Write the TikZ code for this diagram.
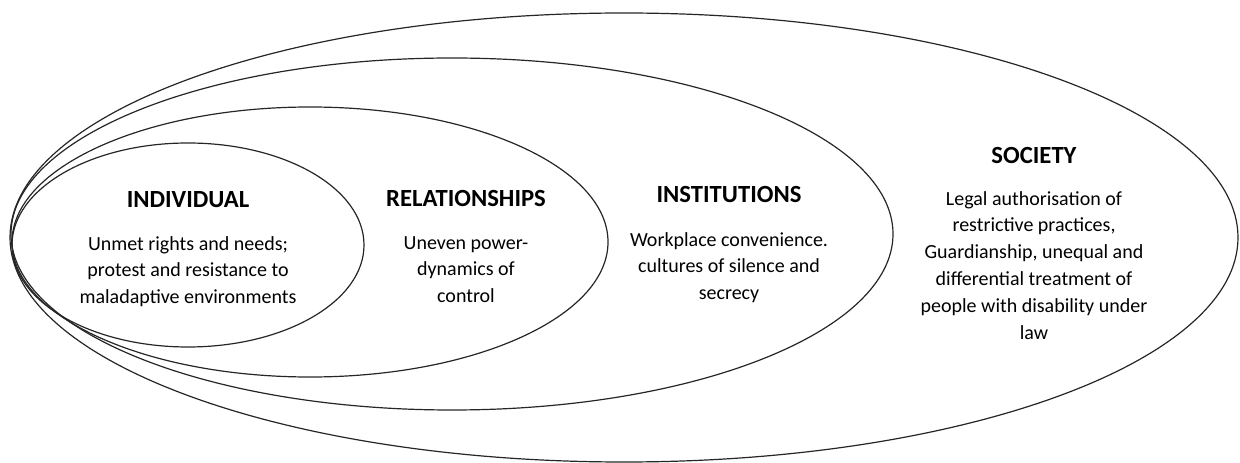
\documentclass[tikz,border=0pt]{standalone}
\usepackage{fontspec}
\setmainfont{Carlito}
\usetikzlibrary{shapes.geometric}
\tikzset{
  ring/.style={draw=black!85, line width=0.9pt, ellipse, inner sep=0pt, outer sep=0pt},
  head/.style={font=\fontsize{18.5}{22}\selectfont\bfseries, inner sep=0pt},
  body/.style={font=\fontsize{15}{20.1}\selectfont, align=center, inner sep=0pt, anchor=north}
}
\begin{document}
\begin{tikzpicture}[x=0.75pt,y=-0.75pt]
\useasboundingbox (0,0) rectangle (1240,463);
\node[ring, minimum width=1228*0.75pt, minimum height=449*0.75pt] (soc) at (624,237.5) {};
\node[ring, minimum width=882*0.75pt, minimum height=352*0.75pt] (ins) at (452,234) {};
\node[ring, minimum width=596*0.75pt, minimum height=270*0.75pt] (rel) at (310,242) {};
\node[ring, minimum width=352*0.75pt, minimum height=204*0.75pt] (ind) at (188,245) {};

\node[head] (indh) at (188,200) {INDIVIDUAL};
\node[body] (indt) at (188,236) {Unmet rights and needs;\\protest and resistance to\\maladaptive environments};

\node[head] (relh) at (466,198) {RELATIONSHIPS};
\node[body] (relt) at (466,236) {Uneven power-\\dynamics of\\control};

\node[head] (insh) at (729,195) {INSTITUTIONS};
\node[body] (inst) at (729,232) {Workplace convenience.\\cultures of silence and\\secrecy};

\node[head] (soch) at (1034,155) {SOCIETY};
\node[body] (soct) at (1034,191) {Legal authorisation of\\restrictive practices,\\Guardianship, unequal and\\differential treatment of\\people with disability under\\law};
\end{tikzpicture}
\end{document}
